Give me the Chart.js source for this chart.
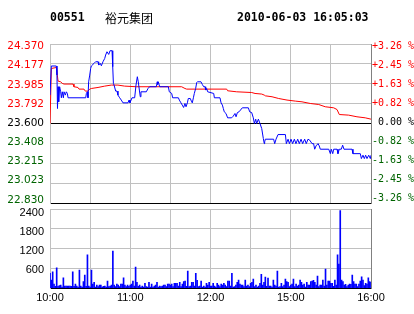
<!DOCTYPE html>
<html>
<head>
<meta charset="utf-8">
<script src="https://cdn.jsdelivr.net/npm/chart.js@4.4.1/dist/chart.umd.min.js"></script>
<style>
  html, body { margin: 0; padding: 0; background: #fff; }
  #wrap { position: relative; width: 414px; height: 314px; overflow: hidden; }
  #priceCanvas { position: absolute; left: 0; top: 0; }
  #volCanvas { position: absolute; left: 0; top: 206px; }
  .hd { position: absolute; top: 10px; line-height: 14px; white-space: nowrap; color: #000;
        font: bold 11.5px "DejaVu Sans Mono", monospace; }
  .hd.name { font: 12px "Noto Sans CJK SC", sans-serif; top: 9px; }
</style>
</head>
<body>
<div id="wrap">
  <canvas id="priceCanvas" width="414" height="206" style="width:414px;height:206px"></canvas>
  <canvas id="volCanvas" width="414" height="108" style="width:414px;height:108px"></canvas>
  <div class="hd" style="left:50px">00551</div>
  <div class="hd name" style="left:105px">裕元集团</div>
  <div class="hd" style="left:237px">2010-06-03 16:05:03</div>
</div>
<script>
// --- data (minutes from 10:00, lunch break removed: 12:30 = 14:30 = 150) ---
const prevClose = 23.6;

const priceTimes = [0, 1, 4.7, 5.2, 5.6, 6, 6.5, 7.2, 8, 8.5, 9.2, 10, 10.5, 11.5, 12.2, 13, 13.5,
  26.7, 27.2, 27.9, 28.4, 28.9, 29.7, 30.4, 30.9, 32.9, 34.1, 35.9, 36.4, 37.6, 38.4, 39.6, 40.9,
  41.6, 42.6, 43.9, 44.9, 46.4, 46.9, 47.4, 47.9, 49.1, 50.1, 50.8, 52.1, 53.3, 54.6, 58.3, 59.1,
  59.8, 61.3, 63.3, 64.3, 65.3, 66, 66.8, 67.5, 68, 72, 73.3, 74.5, 79.5, 80.2, 80.5, 81, 82, 88.5,
  89.2, 91, 91.7, 96, 96.7, 97.9, 98.9, 99.9, 100.9, 101.7, 102.7, 103.4, 104.9, 105.9, 106.4,
  107.2, 107.9, 108.9, 109.7, 110.2, 112.9, 113.9, 114.9, 115.9, 116.4, 117.1, 117.9, 122.4, 122.9,
  127.1, 127.9, 128.9, 129.6, 130.3, 131.6, 132.8, 135.8, 137, 138.3, 139.1, 140.1, 141.3, 143.8,
  148.3, 149.3, 150.8, 152, 152.8, 153.8, 154.5, 155.8, 157, 158.3, 159.5, 160.2, 160.5, 161,
  167.2, 168, 169, 170.5, 176, 176.7, 178, 179, 180.2, 181.4, 182.7, 183.9, 185.2, 186.4, 187.7,
  188.9, 190.4, 191.6, 192.9, 194.2, 195.9, 197.1, 197.9, 198.9, 200.4, 201.3, 202.1, 208.4, 209.6,
  210.3, 211.4, 212.1, 214.6, 215.3, 216.3, 217.8, 218.8, 219.8, 225.8, 226.5, 232, 232.8, 234,
  235, 236, 237, 238.3, 239.5, 240];
const priceValues = [23.875, 24.157, 24.157, 24.07, 23.745, 23.956, 23.81, 23.956, 23.907, 23.849,
  23.907, 23.849, 23.907, 23.875, 23.907, 23.891, 23.849,
  23.849, 23.891, 23.907, 23.849, 24.004, 24.069, 24.133, 24.157, 24.182, 24.198, 24.198, 24.166,
  24.182, 24.159, 24.198, 24.23, 24.263, 24.295, 24.269, 24.305, 24.305, 24.15, 23.988, 23.972,
  23.914, 23.914, 23.875, 23.849, 23.827, 23.80, 23.80, 23.827, 23.80, 23.849, 23.849, 23.972,
  24.053, 24.004, 23.924, 23.859, 23.907, 23.907, 23.939, 23.956, 23.956, 24.004, 23.978, 24.004,
  23.956, 23.956, 23.907, 23.891, 23.849, 23.849, 23.827, 23.80, 23.778, 23.755, 23.794, 23.762,
  23.80, 23.842, 23.842, 23.81, 23.80, 23.849, 23.891, 23.939, 23.997, 24.004, 24.004, 23.978,
  23.956, 23.956, 23.924, 23.939, 23.907, 23.891, 23.849, 23.849, 23.80, 23.778, 23.745, 23.713,
  23.697, 23.655, 23.655, 23.671, 23.697, 23.665, 23.706, 23.713, 23.752, 23.752, 23.713, 23.706,
  23.655, 23.60, 23.642, 23.60, 23.642, 23.60, 23.551, 23.454, 23.405, 23.422, 23.448, 23.448,
  23.405, 23.448, 23.493, 23.493, 23.405, 23.448, 23.405, 23.448, 23.405, 23.448, 23.405, 23.448,
  23.405, 23.448, 23.405, 23.448, 23.405, 23.448, 23.438, 23.405, 23.405, 23.351, 23.383, 23.405,
  23.383, 23.351, 23.351, 23.308, 23.351, 23.308, 23.351, 23.351, 23.308, 23.351, 23.351, 23.39,
  23.351, 23.351, 23.308, 23.308, 23.26, 23.293, 23.26, 23.293, 23.26, 23.293, 23.26, 23.293];

const avgTimes = [0, 1, 5, 5.5, 6, 8, 9.2, 10.5, 17.2, 17.9, 20.9, 21.7, 25.4, 26.4, 28.4, 29.7,
  30.9, 35.9, 40.9, 45.8, 50.8, 55.8, 64.5, 98.4, 100.9, 102.2, 132.1, 132.8, 139.6, 150.8, 153.3,
  158.3, 160.2, 161, 166, 171, 177.2, 183.4, 188.4, 194.6, 200.9, 205.8, 212.1, 214.6, 216.3,
  223.3, 229.5, 235.7, 240];
const avgValues = [23.60, 24.133, 24.143, 24.069, 24.011, 24.004, 23.988, 23.982, 23.982, 23.956,
  23.949, 23.933, 23.933, 23.914, 23.914, 23.933, 23.939, 23.949, 23.962, 23.972, 23.972, 23.962,
  23.956, 23.956, 23.939, 23.933, 23.933, 23.917, 23.907, 23.90, 23.891, 23.885, 23.875, 23.868,
  23.859, 23.842, 23.827, 23.817, 23.81, 23.794, 23.784, 23.762, 23.752, 23.735, 23.687, 23.681,
  23.665, 23.655, 23.642];

// one bar per minute, 0..240
const volumes = [
  450, 250, 500, 130, 60, 620, 60, 80, 100, 40,
  320, 70, 70, 70, 70, 70, 60, 500, 60, 130,
  70, 40, 550, 70, 40, 200, 400, 60, 1010, 70,
  40, 550, 130, 180, 40, 100, 50, 100, 100, 40,
  60, 70, 40, 220, 50, 70, 100, 1130, 100, 50,
  130, 100, 50, 130, 130, 320, 100, 50, 100, 60,
  100, 130, 220, 70, 640, 180, 60, 100, 40, 70,
  40, 150, 50, 40, 180, 40, 130, 40, 70, 100,
  180, 40, 70, 50, 70, 100, 100, 50, 130, 130,
  100, 130, 50, 150, 150, 150, 70, 180, 50, 130,
  200, 220, 60, 520, 50, 70, 180, 180, 70, 450,
  240, 50, 70, 220, 40, 70, 40, 150, 100, 180,
  70, 70, 150, 70, 40, 150, 100, 50, 130, 100,
  150, 100, 50, 220, 220, 70, 450, 40, 50, 100,
  180, 250, 130, 100, 100, 50, 250, 70, 100, 50,
  150, 180, 280, 50, 100, 40, 70, 150, 420, 100,
  180, 340, 60, 310, 70, 70, 40, 250, 100, 70,
  520, 40, 50, 150, 50, 100, 280, 200, 180, 50,
  100, 130, 280, 50, 130, 70, 100, 250, 180, 100,
  130, 40, 180, 100, 100, 200, 220, 240, 180, 100,
  370, 50, 100, 100, 250, 70, 580, 100, 220, 220,
  150, 150, 60, 250, 100, 1010, 730, 2350, 250, 200,
  100, 120, 50, 100, 130, 120, 400, 200, 130, 130,
  50, 130, 220, 350, 250, 80, 150, 130, 320, 200,
  180];

const priceTickLabels = ['24.370', '24.177', '23.985', '23.792', '23.600', '23.408', '23.215', '23.023', '22.830'];
const pctTickLabels = ['+3.26 %', '+2.45 %', '+1.63 %', '+0.82 %', ' 0.00 %', '-0.82 %', '-1.63 %', '-2.45 %', '-3.26 %'];
const volTickValues = [0, 600, 1200, 1800, 2400];
const xTickMinutes = [0, 30, 60, 90, 120, 150, 180, 210, 240];
const xTickLabels = ['10:00', '', '11:00', '', '12:00', '', '15:00', '', '16:00'];

// --- helpers ---
const priceTickValues = priceTickLabels.map(s => parseFloat(s));
const priceMin = 22.83, priceMax = 24.37;
const gridGray = '#c0c0c0';
const upRed = '#ff0000', downGreen = '#006400';

function toPoints(xs, ys) {
  return xs.map((x, i) => ({ x: x, y: ys[i] }));
}
function tickColor(v) {
  if (Math.abs(v - prevClose) < 1e-6) return '#000';
  return v > prevClose ? upRed : downGreen;
}
function setTicks(values) {
  return scale => { scale.ticks = values.map(v => ({ value: v })); };
}
// labels hang outside the plot; keep Chart.js from shrinking the area for them
function fixSize(w, h) {
  return s => {
    if (w !== null) s.width = w;
    if (h !== null) s.height = h;
    s.paddingTop = 0; s.paddingBottom = 0; s.paddingLeft = 0; s.paddingRight = 0;
  };
}
function xAxis(ticks, height) {
  return {
    type: 'linear', min: 0, max: 240, offset: false,
    afterBuildTicks: setTicks(xTickMinutes),
    ticks: ticks,
    grid: { display: true, drawOnChartArea: true, color: gridGray, lineWidth: 1, drawTicks: false, offset: false },
    border: { color: '#000' },
    afterFit: fixSize(null, height)
  };
}

// the original squeezes the y labels a little inside the plot's top and bottom
const labelSqueeze = {
  id: 'labelSqueeze',
  beforeDraw(chart, args, opts) {
    Object.keys(opts.scales || {}).forEach(id => {
      const scale = chart.scales[id];
      if (!scale) return;
      const sh = opts.scales[id];
      const h = scale.bottom - scale.top;
      scale.getLabelItems(chart.chartArea).forEach(item => {
        const t = item.options.translation;
        if (t._squeezed) return;
        const f = (t[1] - scale.top) / h;
        t[1] = t[1] + sh.top + f * (sh.bottom - sh.top);
        t._squeezed = true;
      });
    });
  }
};

// --- price chart ---
new Chart(document.getElementById('priceCanvas'), {
  type: 'line',
  data: {
    datasets: [
      { data: toPoints(priceTimes, priceValues), borderColor: '#0000ff', borderWidth: 1,
        pointRadius: 0, tension: 0, fill: false },
      { data: toPoints(avgTimes, avgValues), borderColor: '#ff0000', borderWidth: 1,
        pointRadius: 0, tension: 0, fill: false }
    ]
  },
  plugins: [labelSqueeze],
  options: {
    responsive: false, animation: false, events: [],
    layout: { padding: { top: 44, left: 0, right: 0, bottom: 0 } },
    plugins: {
      legend: { display: false }, tooltip: { enabled: false },
      labelSqueeze: { scales: { y: { top: 2.5, bottom: -3 }, y1: { top: 2, bottom: -4.5 } } }
    },
    scales: {
      x: xAxis({ display: false }, 3),
      y: {
        position: 'left', min: priceMin, max: priceMax,
        afterBuildTicks: setTicks(priceTickValues),
        ticks: {
          callback: (v, i) => priceTickLabels[i],
          color: ctx => tickColor(ctx.tick.value),
          font: { family: 'DejaVu Sans', size: 10.5 },
          padding: 6
        },
        grid: {
          drawTicks: false,
          color: ctx => {
            const v = ctx.tick ? ctx.tick.value : 0;
            if (Math.abs(v - prevClose) < 1e-6 || Math.abs(v - priceMin) < 1e-6) return '#000';
            return gridGray;
          }
        },
        border: { color: gridGray },
        afterFit: fixSize(50, null)
      },
      y1: {
        position: 'right', min: priceMin, max: priceMax,
        afterBuildTicks: setTicks(priceTickValues),
        ticks: {
          callback: (v, i) => pctTickLabels[i],
          color: ctx => tickColor(ctx.tick.value),
          font: { family: 'DejaVu Sans Mono', size: 10 },
          padding: 1
        },
        grid: { display: false, drawTicks: false },
        border: { color: '#808080' },
        afterFit: fixSize(43, null)
      }
    }
  }
});

// --- volume chart ---
new Chart(document.getElementById('volCanvas'), {
  type: 'bar',
  data: {
    datasets: [{
      data: volumes.map((v, i) => ({ x: i, y: v })),
      backgroundColor: '#0000ff', barThickness: 1, borderWidth: 0
    }]
  },
  plugins: [labelSqueeze],
  options: {
    responsive: false, animation: false, events: [],
    layout: { padding: { top: 3, left: 0, right: 0, bottom: 0 } },
    plugins: {
      legend: { display: false }, tooltip: { enabled: false },
      labelSqueeze: { scales: { y: { top: 4, bottom: 0 } } }
    },
    scales: {
      x: xAxis({
        callback: (v, i) => xTickLabels[i],
        color: '#000', autoSkip: false, maxRotation: 0, padding: 3,
        font: { family: 'Liberation Sans', size: 11 }
      }, 25.7),
      y: {
        position: 'left', min: 0, max: 2400,
        afterBuildTicks: setTicks(volTickValues),
        ticks: {
          callback: v => (v === 0 ? '' : String(v)),
          color: '#000', padding: 6,
          font: { family: 'Liberation Sans', size: 11 }
        },
        grid: { color: gridGray, drawTicks: false },
        border: { color: gridGray },
        afterFit: fixSize(50, null)
      },
      y1: {
        position: 'right', min: 0, max: 2400,
        ticks: { display: false },
        grid: { display: false, drawTicks: false },
        border: { color: '#808080' },
        afterFit: fixSize(43, null)
      }
    }
  }
});
</script>
</body>
</html>
